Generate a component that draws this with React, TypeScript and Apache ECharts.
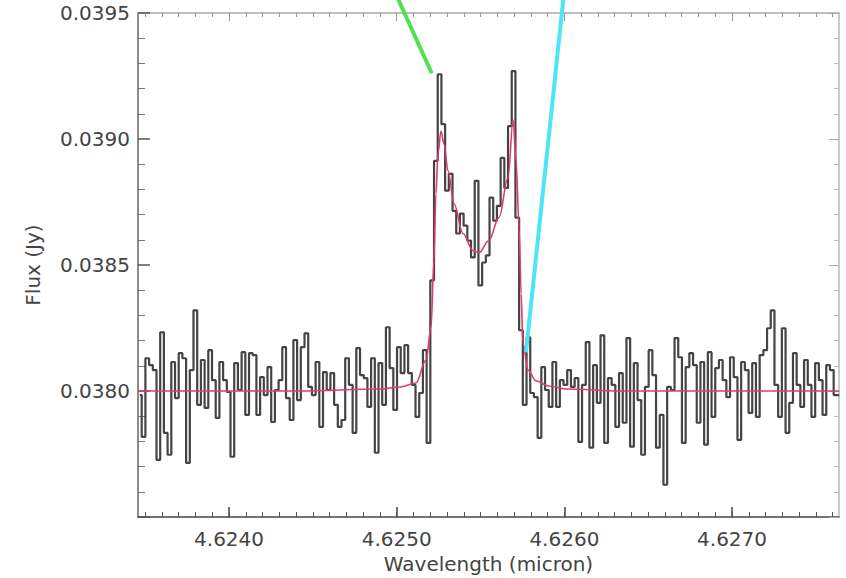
import React, { useEffect, useRef } from "react";
import * as echarts from "echarts";

// Spectrum sampling grid (micron)
const WAVE_START = 4.623457;
const WAVE_STEP = 0.00002207;

// Observed flux (Jy), one value per spectral pixel
const specFlux = [
  0.037984, 0.037818, 0.038130, 0.038103, 0.038083, 0.037727, 0.038233, 0.037834, 0.037747, 0.038115,
  0.037972, 0.038150, 0.038130, 0.037715, 0.038083, 0.038320, 0.037945, 0.038123, 0.037933, 0.038162,
  0.038043, 0.037893, 0.038115, 0.038043, 0.037996, 0.037739, 0.038111, 0.038004, 0.038154, 0.037905,
  0.038150, 0.038142, 0.037905, 0.038055, 0.037984, 0.038095, 0.037877, 0.038004, 0.038043, 0.038174,
  0.037972, 0.037885, 0.038202, 0.037964, 0.038174, 0.038229, 0.038016, 0.037984, 0.038115, 0.037858,
  0.038075, 0.038004, 0.038071, 0.037945, 0.037858, 0.037885, 0.038130, 0.038024, 0.037834, 0.038170,
  0.038063, 0.038051, 0.037937, 0.038130, 0.037755, 0.038111, 0.037945, 0.038253, 0.038091, 0.037925,
  0.038174, 0.038071, 0.038182, 0.038071, 0.038024, 0.037897, 0.037992, 0.038162, 0.037794, 0.038439,
  0.038913, 0.039257, 0.039059, 0.038795, 0.038862, 0.038715, 0.038625, 0.038704, 0.038656, 0.038597,
  0.038530, 0.038834, 0.038419, 0.038510, 0.038538, 0.038767, 0.038676, 0.038735, 0.038925, 0.038806,
  0.039051, 0.039269, 0.038688, 0.038241, 0.037945, 0.038213, 0.037992, 0.037976, 0.037814, 0.038095,
  0.038004, 0.037937, 0.038115, 0.037937, 0.038043, 0.038024, 0.038083, 0.038016, 0.038051, 0.037798,
  0.038024, 0.038194, 0.037775, 0.038103, 0.037953, 0.038221, 0.037794, 0.038051, 0.038024, 0.037858,
  0.038071, 0.037874, 0.038210, 0.037779, 0.038111, 0.037964, 0.037747, 0.038016, 0.038162, 0.038063,
  0.037775, 0.037905, 0.037628, 0.038016, 0.038004, 0.038210, 0.038134, 0.037794, 0.038095, 0.038150,
  0.038103, 0.037874, 0.038115, 0.037787, 0.038154, 0.037897, 0.038091, 0.038123, 0.038043, 0.037976,
  0.038134, 0.038055, 0.037806, 0.038115, 0.038083, 0.037913, 0.038111, 0.037897, 0.038142, 0.038162,
  0.038249, 0.038320, 0.038024, 0.037897, 0.038249, 0.037834, 0.037953, 0.038150, 0.038024, 0.037937,
  0.038123, 0.038024, 0.037897, 0.038111, 0.038043, 0.037905, 0.038103, 0.038083, 0.037984, 0.037984,
];

// Model fit
const modelWave = [
  4.623457, 4.62442, 4.6249, 4.62502, 4.625115, 4.625175, 4.625205, 4.625222, 4.625234, 4.625246,
  4.625264, 4.625282, 4.625306, 4.625342, 4.625395, 4.625455, 4.625491, 4.62555, 4.62561, 4.625664,
  4.625694, 4.625712, 4.62573, 4.625742, 4.625753, 4.625783, 4.625831, 4.625908, 4.62601, 4.62633,
  4.62764,
];
const modelFlux = [
  0.038, 0.038, 0.038008, 0.038016, 0.038032, 0.038123, 0.038253, 0.038518, 0.038783, 0.038941,
  0.039032, 0.03898, 0.038874, 0.038743, 0.038625, 0.038557, 0.038549, 0.038597, 0.038688, 0.038846,
  0.039075, 0.038913, 0.038648, 0.038387, 0.03819, 0.038083, 0.03804, 0.03802, 0.038008, 0.038,
  0.038,
];

// Pointer lines (wavelength, flux) endpoints
const greenWave = [4.625008, 4.625209];
const greenFlux = [0.039556, 0.039261];
const cyanWave = [4.625994, 4.625771];
const cyanFlux = [0.039556, 0.038154];

// Axis ticks
const xMajorTicks = [4.624, 4.625, 4.626, 4.627];
const X_MIN = 4.623457;
const X_MAX = 4.627638;
const Y_MIN = 0.0375;
const Y_MAX = 0.0395;

const FONT = "DejaVu Sans";

export default function App() {
  const ref = useRef<HTMLDivElement>(null);

  useEffect(() => {
    if (!ref.current) return;
    const chart = echarts.init(ref.current, null, { renderer: "svg" });

    const xMinorTicks: number[] = [];
    for (let k = 46235; k <= 46276; k++) xMinorTicks.push(k / 10000);

    const specData = specFlux.map((f, i) => [WAVE_START + (i + 0.5) * WAVE_STEP, f]);
    const modelData = modelWave.map((w, i) => [w, modelFlux[i]]);

    const baseX = {
      type: "value" as const,
      min: X_MIN,
      max: X_MAX,
      splitLine: { show: false },
    };

    chart.setOption({
      animation: false,
      backgroundColor: "#ffffff",
      grid: {
        left: 138,
        right: 7,
        top: 13,
        bottom: 61,
        containLabel: false,
        outerBoundsMode: "none",
      },
      xAxis: [
        {
          ...baseX,
          position: "bottom",
          name: "Wavelength (micron)",
          nameLocation: "middle",
          nameGap: 36,
          nameTextStyle: { fontFamily: FONT, fontSize: 20, color: "#444" },
          axisLine: { show: true, onZero: false, lineStyle: { color: "#444", width: 1.5 } },
          axisTick: {
            show: true,
            inside: true,
            length: 10,
            customValues: xMajorTicks,
            lineStyle: { color: "#444", width: 1.5 },
          },
          axisLabel: {
            show: true,
            customValues: xMajorTicks,
            margin: 12,
            fontFamily: FONT,
            fontSize: 20,
            color: "#444",
            formatter: (v: number) => v.toFixed(4),
          },
        },
        {
          ...baseX,
          position: "bottom",
          axisLine: { show: false },
          axisTick: {
            show: true,
            inside: true,
            length: 5,
            customValues: xMinorTicks,
            lineStyle: { color: "#555", width: 1 },
          },
          axisLabel: { show: false },
        },
        {
          ...baseX,
          position: "top",
          axisLine: { show: true, onZero: false, lineStyle: { color: "#aaa", width: 1.5 } },
          axisTick: {
            show: true,
            inside: true,
            length: 8,
            customValues: xMajorTicks,
            lineStyle: { color: "#999", width: 1 },
          },
          axisLabel: { show: false },
        },
        {
          ...baseX,
          position: "top",
          axisLine: { show: false },
          axisTick: {
            show: true,
            inside: true,
            length: 4,
            customValues: xMinorTicks,
            lineStyle: { color: "#999", width: 1 },
          },
          axisLabel: { show: false },
        },
      ],
      yAxis: [
        {
          type: "value",
          position: "left",
          min: Y_MIN,
          max: Y_MAX,
          interval: 0.0005,
          name: "Flux (Jy)",
          nameLocation: "middle",
          nameGap: 95,
          nameTextStyle: { fontFamily: FONT, fontSize: 20, color: "#444" },
          splitLine: { show: false },
          axisLine: { show: true, onZero: false, lineStyle: { color: "#666", width: 1.5 } },
          axisTick: { show: true, inside: true, length: 12, lineStyle: { color: "#555", width: 1.5 } },
          minorTick: { show: true, splitNumber: 5, length: 7, lineStyle: { color: "#777", width: 1 } },
          axisLabel: {
            margin: 8,
            fontFamily: FONT,
            fontSize: 20,
            color: "#444",
            formatter: (v: number) => (v < 0.03776 ? "" : v.toFixed(4)),
          },
        },
        {
          type: "value",
          position: "right",
          min: Y_MIN,
          max: Y_MAX,
          interval: 0.0005,
          splitLine: { show: false },
          axisLine: { show: true, onZero: false, lineStyle: { color: "#bbb", width: 1.5 } },
          axisTick: { show: true, inside: true, length: 10, lineStyle: { color: "#aaa", width: 1 } },
          minorTick: { show: true, splitNumber: 5, length: 5, lineStyle: { color: "#bbb", width: 1 } },
          axisLabel: { show: false },
        },
      ],
      series: [
        {
          type: "line",
          name: "spectrum",
          step: "middle",
          data: specData,
          showSymbol: false,
          symbol: "none",
          lineStyle: { color: "#444444", width: 2.2 },
          z: 2,
        },
        {
          type: "line",
          name: "model",
          data: modelData,
          smooth: 0.35,
          smoothMonotone: "x",
          showSymbol: false,
          symbol: "none",
          lineStyle: { color: "#e23c6c", width: 1.6 },
          z: 3,
        },
        {
          type: "line",
          name: "green",
          data: greenWave.map((w, i) => [w, greenFlux[i]]),
          clip: false,
          showSymbol: false,
          symbol: "none",
          lineStyle: { color: "#52e052", width: 4 },
          z: 4,
        },
        {
          type: "line",
          name: "cyan",
          data: cyanWave.map((w, i) => [w, cyanFlux[i]]),
          clip: false,
          showSymbol: false,
          symbol: "none",
          lineStyle: { color: "#4ce6f4", width: 4 },
          z: 4,
        },
      ],
    });

    return () => chart.dispose();
  }, []);

  return (
    <div
      ref={ref}
      style={{ position: "fixed", left: 0, top: 0, width: 846, height: 578, background: "#fff" }}
    />
  );
}
